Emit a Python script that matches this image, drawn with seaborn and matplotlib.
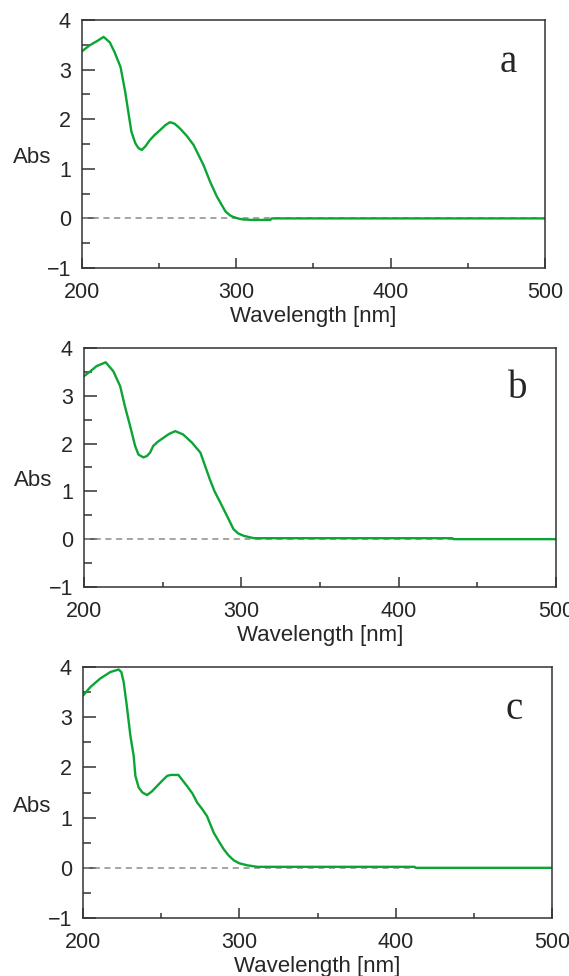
import matplotlib
matplotlib.use("Agg")
import matplotlib.pyplot as plt
import seaborn as sns
import pandas as pd
from matplotlib.ticker import MultipleLocator

# Spectrum a
wl_a = [200, 205, 210, 214, 218, 221, 225, 228, 230, 232, 234.5, 236.5, 238.7, 241, 244, 247,
        250.6, 254, 257, 260, 263.6, 268, 272.3, 275.5, 278.8, 283, 287.4, 290, 293, 296, 298,
        301, 304, 310, 322, 323, 500]
abs_a = [3.37, 3.49, 3.58, 3.66, 3.55, 3.36, 3.05, 2.55, 2.15, 1.75, 1.52, 1.42, 1.38, 1.45, 1.58, 1.68,
         1.78, 1.88, 1.94, 1.91, 1.81, 1.66, 1.48, 1.28, 1.07, 0.74, 0.44, 0.30, 0.14, 0.06, 0.03,
         0.0, -0.02, -0.03, -0.03, 0.0, 0.0]

# Spectrum b
wl_b = [200, 204, 208, 213.8, 218.7, 223, 226, 229.3, 232.5, 234.6, 237.8, 240, 242, 244, 247, 250.5,
        254, 258, 263, 268.6, 274, 277, 280, 283, 286.6, 291, 295, 298, 301.5, 308, 434, 435, 500]
abs_b = [3.41, 3.51, 3.62, 3.70, 3.51, 3.20, 2.78, 2.37, 1.95, 1.77, 1.71, 1.74, 1.81, 1.95, 2.04, 2.12,
         2.20, 2.26, 2.19, 2.02, 1.81, 1.53, 1.25, 1.00, 0.77, 0.48, 0.21, 0.12, 0.07, 0.02, 0.02, 0.0, 0.0]

# Spectrum c
wl_c = [200, 204.7, 211, 217.5, 222.8, 224.5, 226, 228, 230.3, 232.4, 233.5, 235.6, 238, 241, 244,
        247.4, 250.5, 253.8, 256, 261, 263.5, 266.5, 270, 273, 276, 279.3, 283.6, 287, 290, 293,
        296.4, 300, 305, 311.4, 412, 413, 500]
abs_c = [3.43, 3.60, 3.77, 3.90, 3.95, 3.90, 3.70, 3.23, 2.63, 2.23, 1.83, 1.60, 1.50, 1.45, 1.52,
         1.63, 1.73, 1.83, 1.85, 1.85, 1.75, 1.63, 1.48, 1.30, 1.18, 1.03, 0.70, 0.52, 0.37, 0.25,
         0.15, 0.09, 0.05, 0.02, 0.02, 0.0, 0.0]

panels = [("a", wl_a, abs_a), ("b", wl_b, abs_b), ("c", wl_c, abs_c)]
x_ticks = [200, 300, 400, 500]
y_ticks = [-1, 0, 1, 2, 3, 4]

sns.set_style("ticks")
plt.rcParams['font.family'] = ['Liberation Sans', 'DejaVu Sans']

fig = plt.figure(figsize=(5.69, 9.76), dpi=100)
# axes boxes [left, bottom, width, height] in figure fraction
boxes = [[0.1441, 0.7254, 0.8137, 0.2541],
         [0.1476, 0.3986, 0.8295, 0.2449],
         [0.1459, 0.0594, 0.8243, 0.2572]]

spine_col = "#333333"
for (letter, wl, ab), box in zip(panels, boxes):
    ax = fig.add_axes(box)
    ax.axhline(0, color="#8c8c8c", lw=1.1, ls=(0, (4, 3)), zorder=1)
    df = pd.DataFrame({"Wavelength": wl, "Abs": ab})
    sns.lineplot(data=df, x="Wavelength", y="Abs", ax=ax, color="#0aa534", lw=1.7, zorder=2)
    ax.set_xlim(200, 500)
    ax.set_ylim(-1, 4)
    ax.set_xticks(x_ticks)
    ax.set_yticks(y_ticks)
    ax.set_yticklabels(["\u22121", "0", "1", "2", "3", "4"])
    ax.xaxis.set_minor_locator(MultipleLocator(50))
    ax.yaxis.set_minor_locator(MultipleLocator(0.5))
    ax.tick_params(axis="x", which="major", direction="in", length=7, width=1.1,
                   color=spine_col, labelsize=15.5, pad=10)
    ax.tick_params(axis="x", which="minor", direction="in", length=3.6, width=1.1, color=spine_col)
    ax.tick_params(axis="y", which="major", direction="in", length=9.4, width=1.1,
                   color=spine_col, labelsize=15.5, pad=8)
    ax.tick_params(axis="y", which="minor", direction="in", length=5.8, width=1.1, color=spine_col)
    for s in ax.spines.values():
        s.set_color(spine_col)
        s.set_linewidth(1.1)
    ax.set_xlabel("Wavelength [nm]", fontsize=16, labelpad=2)
    ax.set_ylabel("Abs", fontsize=16, rotation=0, ha="center", va="center")
    ax.yaxis.set_label_coords(-0.108, 0.445)
    ax.text(0.92, 0.83, letter, transform=ax.transAxes, fontsize=28,
            family="Liberation Serif", ha="center", va="center")

fig.savefig("out.png", dpi=100)
